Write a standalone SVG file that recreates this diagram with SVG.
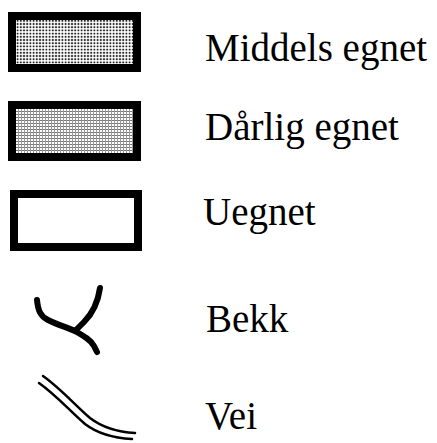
<svg xmlns="http://www.w3.org/2000/svg" width="437" height="443" viewBox="0 0 437 443">
  <style>
    .label { font-family: "Liberation Serif", "Times New Roman", serif; font-size: 39px; fill: #000; }
    .box { stroke: #000; stroke-width: 8; }
    .stream { fill: none; stroke: #000; stroke-width: 6; stroke-linecap: round; stroke-linejoin: round; }
    .road { fill: none; stroke: #000; stroke-width: 2.5; stroke-linecap: round; }
  </style>
  <defs>
    <!-- halftone dots for medium suitability -->
    <pattern id="dots" width="3.2" height="3.2" patternUnits="userSpaceOnUse">
      <rect width="3.2" height="3.2" fill="#fff"/>
      <circle cx="1.6" cy="1.6" r="1.05" fill="#222"/>
    </pattern>
    <!-- fine screen for poor suitability -->
    <pattern id="grid" width="3" height="3" patternUnits="userSpaceOnUse">
      <rect width="3" height="3" fill="#fff"/>
      <rect width="3" height="1" fill="#777"/>
      <rect width="1" height="3" fill="#999"/>
    </pattern>
  </defs>

  <rect width="437" height="443" fill="#fff"/>

  <g id="middels-egnet">
    <rect class="box" x="12" y="16" width="125" height="52" fill="url(#dots)"/>
    <text class="label" x="205" y="61">Middels egnet</text>
  </g>

  <g id="darlig-egnet">
    <rect class="box" x="12" y="105" width="125" height="52" fill="url(#grid)"/>
    <text class="label" x="205" y="140">Dårlig egnet</text>
  </g>

  <g id="uegnet">
    <rect class="box" x="14" y="194" width="124" height="53" fill="#fff"/>
    <text class="label" x="203" y="225">Uegnet</text>
  </g>

  <g id="bekk">
    <path class="stream" d="M37 300 C38 310 40 316 48 320 C58 325 66 327 75 331 C84 336 91 340 94 346 L97 352"/>
    <path class="stream" d="M100 288 C98 302 92 314 84 322 C80 326 77 329 75 331"/>
    <text class="label" x="206" y="332">Bekk</text>
  </g>

  <g id="vei">
    <path class="road" d="M43 376 C60 388 75 405 90 418 C103 428 118 432 135 433"/>
    <path class="road" d="M39 383 C56 395 70 411 85 424 C98 434 114 438 132 439"/>
    <text class="label" x="205" y="429">Vei</text>
  </g>
</svg>
